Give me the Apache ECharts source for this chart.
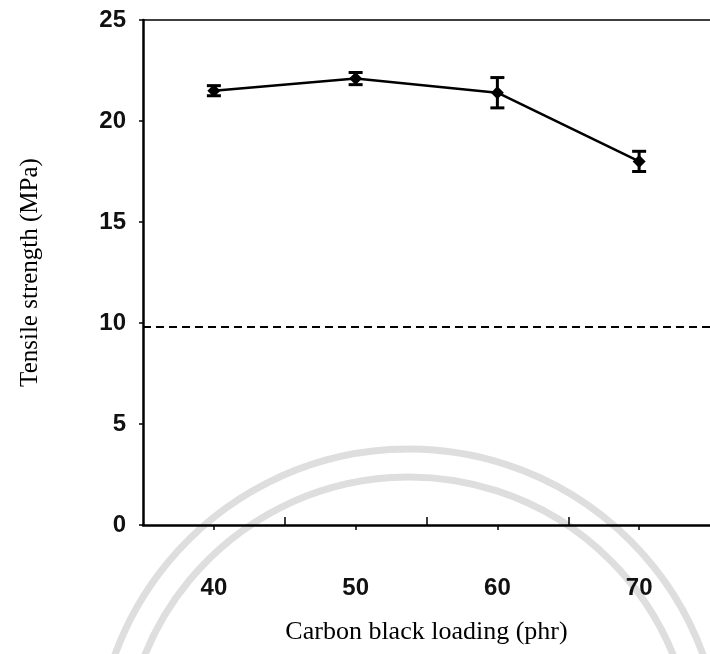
<!DOCTYPE html>
<html>
<head>
<meta charset="utf-8">
<script src="https://cdn.jsdelivr.net/npm/echarts@6/dist/echarts.min.js"></script>
<style>
  html, body { margin: 0; padding: 0; background: #fff; }
  #main { width: 710px; height: 654px; }
</style>
</head>
<body>
<div id="main"></div>
<script>
// carbon black loading (phr)
const loading = [40, 50, 60, 70];
// tensile strength (MPa) and error bar half-widths
const strength = [21.5, 22.1, 21.4, 18.0];
const strengthErr = [0.25, 0.3, 0.75, 0.5];
// dashed reference line
const refLine = 9.8;
const labelTicks = [40, 50, 60, 70];
const midTicks = [45, 55, 65];

const myChart = echarts.init(document.getElementById('main'));

const points = loading.map((x, i) => [x, strength[i]]);
const errData = loading.map((x, i) => [x, strength[i] - strengthErr[i], strength[i] + strengthErr[i]]);

const option = {
  backgroundColor: '#fff',
  animation: false,
  // faint watermark arcs
  graphic: [
    { type: 'arc', z: -10, shape: { cx: 409, cy: 762, r: 313, startAngle: Math.PI * 1.1, endAngle: Math.PI * 1.9 },
      style: { stroke: '#dedede', lineWidth: 7, fill: null } },
    { type: 'arc', z: -10, shape: { cx: 409, cy: 762, r: 285, startAngle: Math.PI * 1.1, endAngle: Math.PI * 1.9 },
      style: { stroke: '#dedede', lineWidth: 7, fill: null } },
  ],
  grid: { left: 143, top: 20, right: -9, bottom: 129, containLabel: false },
  xAxis: [
    {
      type: 'value',
      min: 35,
      max: 75,
      position: 'bottom',
      name: 'Carbon black loading (phr)',
      nameLocation: 'middle',
      nameGap: 94,
      nameTextStyle: { fontFamily: 'Liberation Serif', fontSize: 26, color: '#000' },
      axisLine: { show: true, lineStyle: { color: '#000', width: 2.5 } },
      axisTick: { show: true, inside: false, length: 5, customValues: labelTicks, lineStyle: { color: '#000', width: 1.5 } },
      axisLabel: { customValues: labelTicks, margin: 51, fontFamily: 'Liberation Sans', fontSize: 24, fontWeight: 'bold', color: '#111' },
      splitLine: { show: false },
    },
    {
      type: 'value',
      min: 35,
      max: 75,
      position: 'bottom',
      axisLine: { show: false },
      axisTick: { show: true, inside: true, length: 8, customValues: midTicks, lineStyle: { color: '#000', width: 1.5 } },
      axisLabel: { show: false },
      splitLine: { show: false },
    },
    {
      type: 'value',
      min: 35,
      max: 75,
      position: 'top',
      axisLine: { show: true, lineStyle: { color: '#000', width: 1.5 } },
      axisTick: { show: false },
      axisLabel: { show: false },
      splitLine: { show: false },
    },
  ],
  yAxis: {
    type: 'value',
    min: 0,
    max: 25,
    interval: 5,
    name: 'Tensile strength (MPa)',
    nameLocation: 'middle',
    nameGap: 100,
    nameTextStyle: { fontFamily: 'Liberation Serif', fontSize: 25, color: '#000' },
    axisLine: { show: true, lineStyle: { color: '#000', width: 2.5 } },
    axisTick: { show: true, inside: false, length: 4, lineStyle: { color: '#000', width: 1.5 } },
    axisLabel: { margin: 17, fontFamily: 'Liberation Sans', fontSize: 24, fontWeight: 'bold', color: '#111' },
    splitLine: { show: false },
  },
  series: [
    {
      name: 'Tensile strength',
      type: 'line',
      data: points,
      symbol: 'diamond',
      symbolSize: 13,
      itemStyle: { color: '#000' },
      lineStyle: { color: '#000', width: 2.5 },
      z: 5,
      markLine: {
        silent: true,
        symbol: 'none',
        label: { show: false },
        lineStyle: { color: '#000', type: [8, 5], width: 2 },
        data: [{ yAxis: refLine }],
      },
    },
    // error bars
    {
      type: 'custom',
      data: errData,
      z: 6,
      renderItem: (params, api) => {
        const x = api.value(0);
        const lo = api.coord([x, api.value(1)]);
        const hi = api.coord([x, api.value(2)]);
        const hw = 7;
        const style = { stroke: '#000', lineWidth: 3 };
        return {
          type: 'group',
          children: [
            { type: 'line', shape: { x1: lo[0], y1: lo[1], x2: hi[0], y2: hi[1] }, style },
            { type: 'line', shape: { x1: lo[0] - hw, y1: lo[1], x2: lo[0] + hw, y2: lo[1] }, style },
            { type: 'line', shape: { x1: hi[0] - hw, y1: hi[1], x2: hi[0] + hw, y2: hi[1] }, style },
          ],
        };
      },
    },
  ],
};

myChart.setOption(option);
</script>
</body>
</html>
